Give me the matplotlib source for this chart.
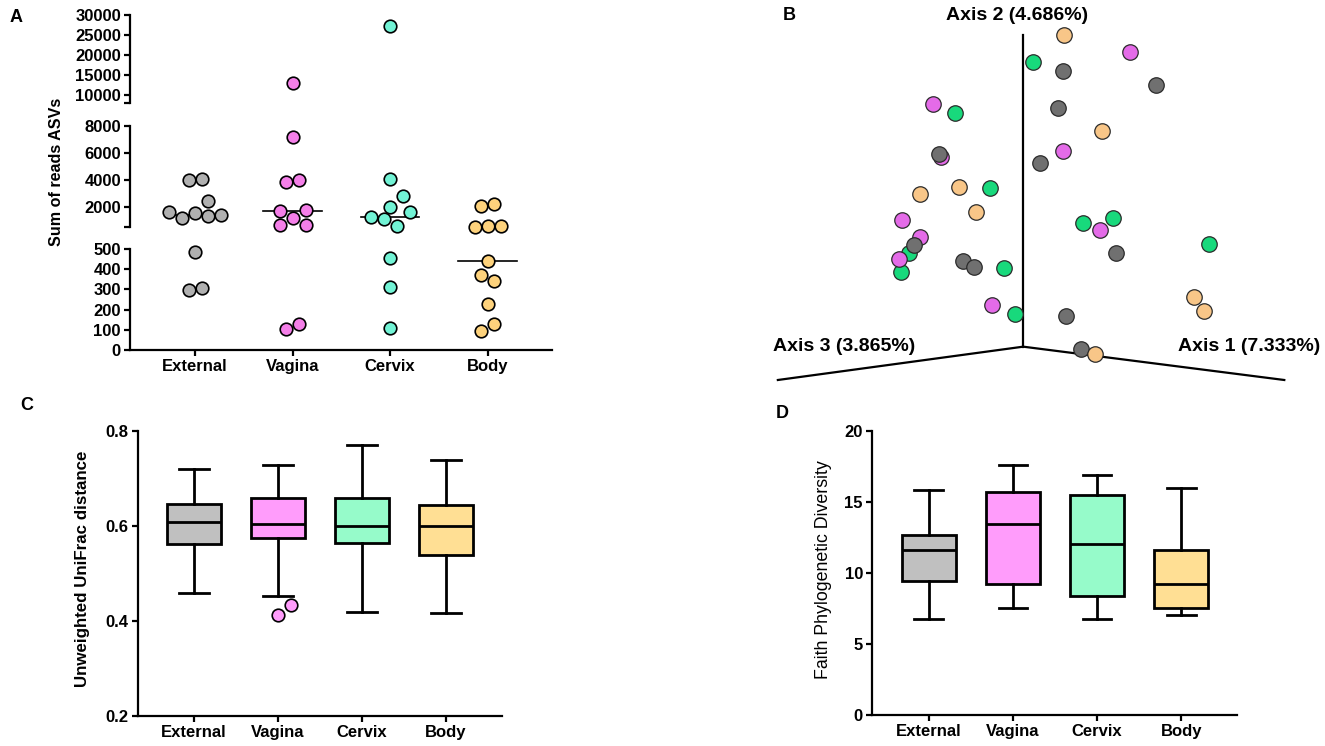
import numpy as np
import matplotlib
matplotlib.use("Agg")
import matplotlib.pyplot as plt

plt.rcParams['font.family'] = ['Liberation Sans', 'DejaVu Sans']
plt.rcParams['font.weight'] = 'bold'

groups = ["External", "Vagina", "Cervix", "Body"]

# panel A: sum of reads (ASVs) per sample
reads_external = [4000, 4100, 2450, 1600, 1200, 1575, 1325, 1425, 485, 298, 306]
reads_vagina = [12960, 7200, 3875, 3975, 625, 1200, 625, 1725, 1750, 104, 127]
reads_cervix = [27370, 4075, 2800, 1975, 1250, 1650, 1125, 600, 455, 311, 107]
reads_body = [2075, 2200, 530, 540, 550, 439, 369, 340, 228, 96, 127]
reads = [reads_external, reads_vagina, reads_cervix, reads_body]

# panel B: PCoA scores as seen in the 3D projection (screen units)
pc_gray_x = [847, 1110, 834, 500, 785, 432, 567, 600, 997, 857, 898]
pc_gray_y = [212, 255, 323, 463, 488, 735, 783, 800, 760, 947, 1048]
pc_pink_x = [1035, 484, 508, 848, 398, 447, 390, 952, 650]
pc_pink_y = [157, 313, 470, 453, 660, 712, 777, 690, 915]
pc_green_x = [765, 545, 643, 903, 988, 1256, 418, 396, 682, 714]
pc_green_y = [187, 338, 563, 668, 655, 733, 758, 815, 805, 943]
pc_orange_x = [852, 957, 557, 447, 606, 1215, 1242, 937]
pc_orange_y = [105, 393, 562, 582, 637, 890, 933, 1062]

# panel C: unweighted UniFrac distance
c_whislo = [0.460, 0.452, 0.420, 0.416]
c_q1 = [0.563, 0.575, 0.565, 0.540]
c_med = [0.608, 0.605, 0.599, 0.601]
c_q3 = [0.646, 0.660, 0.658, 0.644]
c_whishi = [0.719, 0.728, 0.770, 0.738]
c_outliers = [[], [0.412, 0.434], [], []]

# panel D: Faith phylogenetic diversity
d_whislo = [6.73, 7.57, 6.73, 7.03]
d_q1 = [9.47, 9.21, 8.37, 7.57]
d_med = [11.65, 13.48, 12.03, 9.26]
d_q3 = [12.71, 15.71, 15.47, 11.61]
d_whishi = [15.83, 17.61, 16.93, 15.97]

dot_colors = ['#b0b0b0', '#f47fe8', '#72f3d5', '#fdd27c']
box_colors = ['#c0c0c0', '#ff9cfb', '#96fbca', '#ffdf94']
W, H = 1325, 746
LW = 1.6
TICK_FS = 12


def rect(x0, y0, x1, y1):
    # pixel box (top-left origin) -> figure fraction
    return [x0 / W, 1 - y1 / H, (x1 - x0) / W, (y1 - y0) / H]


def style(ax):
    for s in ['top', 'right']:
        ax.spines[s].set_visible(False)
    for s in ['left', 'bottom']:
        ax.spines[s].set_linewidth(LW)
    ax.tick_params(width=LW, length=4.5, labelsize=TICK_FS, pad=2)


def swarm(ys, diam, thr=8.0):
    # rows of near-equal display y, spread symmetric, widened until no overlap
    n = len(ys)
    order = sorted(range(n), key=lambda i: ys[i])
    rows, cur = [], [order[0]]
    for i in order[1:]:
        if ys[i] - ys[cur[0]] < thr:
            cur.append(i)
        else:
            rows.append(cur)
            cur = [i]
    rows.append(cur)
    offs = np.zeros(n)
    placed = []

    def ok(trial, members):
        for t, m in zip(trial, members):
            for px, py in placed:
                if np.hypot(t * diam - px, ys[m] - py) < diam * 0.95:
                    return False
        return True

    for row in rows:
        row = sorted(row)
        k = len(row)
        if k == 1:
            cands = [[0], [1], [-1], [1.5], [-1.5], [2], [-2]]
        else:
            cands = [[(j - (k - 1) / 2) * s for j in range(k)] for s in (1, 2, 3, 4)]
        best = cands[-1]
        for c in cands:
            if ok(c, row):
                best = c
                break
        for t, m in zip(best, row):
            offs[m] = t
            placed.append((t * diam, ys[m]))
    return offs


fig = plt.figure(figsize=(W / 100, H / 100), dpi=100)

# ---------------- panel A (broken y axis) ----------------
xlimA = (-0.667, 3.66)
ax_top = fig.add_axes(rect(130, 15, 552, 103))
ax_mid = fig.add_axes(rect(130, 126, 552, 227))
ax_bot = fig.add_axes(rect(130, 249, 552, 350))
segs = [
    (ax_bot, 0, 500, [0, 100, 200, 300, 400, 500], ['0', '100', '200', '300', '400', '500']),
    (ax_mid, 500, 8000, [500, 2000, 4000, 6000, 8000], ['', '2000', '4000', '6000', '8000']),
    (ax_top, 8000, 30000, [8000, 10000, 15000, 20000, 25000, 30000],
     ['', '10000', '15000', '20000', '25000', '30000']),
]
for ax, lo, hi, ticks, labels in segs:
    style(ax)
    ax.set_xlim(*xlimA)
    ax.set_ylim(lo, hi)
    ax.set_yticks(ticks)
    ax.set_yticklabels(labels)
    ax.patch.set_alpha(0)
    if ax is not ax_bot:
        ax.spines['bottom'].set_visible(False)
        ax.tick_params(axis='x', bottom=False, labelbottom=False)
ax_bot.set_xticks(range(4))
ax_bot.set_xticklabels(groups)


def seg_for(v):
    if v <= 500:
        return ax_bot
    if v <= 8000:
        return ax_mid
    return ax_top


diamA = 13.0
pxu = ax_bot.transData.transform((1, 0))[0] - ax_bot.transData.transform((0, 0))[0]
for i, vals in enumerate(reads):
    ys = [seg_for(v).transData.transform((0, v))[1] for v in vals]
    offs = swarm(ys, diamA)
    for v, o in zip(vals, offs):
        seg_for(v).scatter(i + o * diamA / pxu, v, s=82, color=dot_colors[i],
                           edgecolor='black', linewidth=1.2, zorder=3, clip_on=False)
    med = np.median(vals)
    seg_for(med).plot([i - 0.3, i + 0.3], [med, med], color='black', lw=1.2, zorder=2)

fig.text(57 / W, 1 - 172 / H, 'Sum of reads ASVs', rotation=90, ha='center', va='center',
         fontsize=11.6)

# ---------------- panel B (PCoA) ----------------
axB = fig.add_axes(rect(760, 0, 1320, 390))
axB.set_xlim(0, 1568)
axB.set_ylim(1170, 0)
axB.axis('off')
axB.plot([737, 737], [105, 1040], color='black', lw=1.6)
axB.plot([50, 737, 1468], [1140, 1040, 1140], color='black', lw=1.6)
for xs, ys, c in [(pc_green_x, pc_green_y, '#18d97c'), (pc_pink_x, pc_pink_y, '#e46be8'),
                  (pc_gray_x, pc_gray_y, '#707070'), (pc_orange_x, pc_orange_y, '#f8c688')]:
    axB.scatter(xs, ys, s=124, color=c, edgecolor='#2a2a2a', linewidth=0.9, zorder=3)
axB.text(720, 45, 'Axis 2 (4.686%)', ha='center', va='center', fontsize=14)
axB.text(235, 1040, 'Axis 3 (3.865%)', ha='center', va='center', fontsize=14)
axB.text(1370, 1040, 'Axis 1 (7.333%)', ha='center', va='center', fontsize=14)

# ---------------- panel C ----------------
axC = fig.add_axes(rect(137.5, 431, 502, 716))
style(axC)
statsC = [dict(med=c_med[i], q1=c_q1[i], q3=c_q3[i], whislo=c_whislo[i],
               whishi=c_whishi[i], fliers=[]) for i in range(4)]
bpC = axC.bxp(statsC, positions=range(4), widths=0.64, capwidths=0.36, patch_artist=True,
              showfliers=False,
              boxprops=dict(linewidth=2, edgecolor='black'),
              medianprops=dict(color='black', linewidth=2),
              whiskerprops=dict(color='black', linewidth=2),
              capprops=dict(color='black', linewidth=2))
for p, c in zip(bpC['boxes'], box_colors):
    p.set_facecolor(c)
axC.set_xlim(-0.673, 3.67)
axC.set_ylim(0.2, 0.8)
axC.set_yticks([0.2, 0.4, 0.6, 0.8])
axC.set_xticks(range(4))
axC.set_xticklabels(groups)
pxuC = axC.transData.transform((1, 0))[0] - axC.transData.transform((0, 0))[0]
for i, outs in enumerate(c_outliers):
    if not outs:
        continue
    ys = [axC.transData.transform((0, v))[1] for v in outs]
    offs = swarm(ys, diamA)
    axC.scatter(i + offs * diamA / pxuC, outs, s=82, color=box_colors[i], edgecolor='black',
                linewidth=1.2, zorder=3, clip_on=False)
fig.text(82 / W, 1 - 569 / H, 'Unweighted UniFrac distance', rotation=90, ha='center',
         va='center', fontsize=12.2)

# ---------------- panel D ----------------
axD = fig.add_axes(rect(872, 431, 1237, 715))
style(axD)
statsD = [dict(med=d_med[i], q1=d_q1[i], q3=d_q3[i], whislo=d_whislo[i],
               whishi=d_whishi[i], fliers=[]) for i in range(4)]
bpD = axD.bxp(statsD, positions=range(4), widths=0.64, capwidths=0.34, patch_artist=True,
              showfliers=False,
              boxprops=dict(linewidth=2, edgecolor='black'),
              medianprops=dict(color='black', linewidth=2),
              whiskerprops=dict(color='black', linewidth=2),
              capprops=dict(color='black', linewidth=2))
for p, c in zip(bpD['boxes'], box_colors):
    p.set_facecolor(c)
axD.set_xlim(-0.673, 3.66)
axD.set_ylim(0, 20)
axD.set_yticks([0, 5, 10, 15, 20])
axD.set_xticks(range(4))
axD.set_xticklabels(groups)
fig.text(824 / W, 1 - 570 / H, 'Faith Phylogenetic Diversity', rotation=90, ha='center',
         va='center', fontsize=12.8, fontweight='normal')

# panel letters
for lab, x, y in [('A', 16, 17), ('B', 789, 15), ('C', 27, 405), ('D', 782, 413)]:
    fig.text(x / W, 1 - y / H, lab, ha='center', va='center', fontsize=13)

fig.savefig('out.png', dpi=100)
